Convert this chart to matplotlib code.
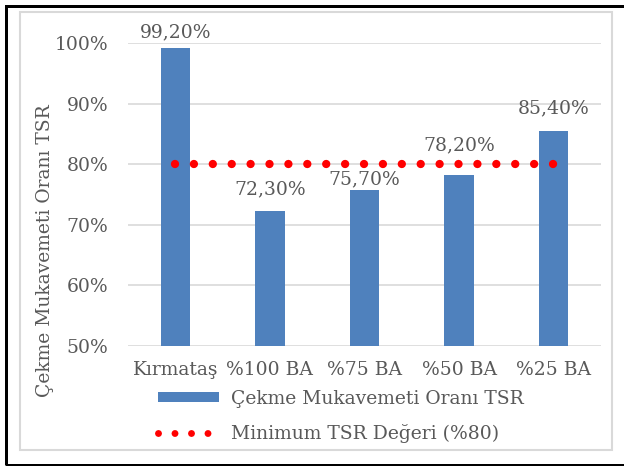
import matplotlib
matplotlib.use("Agg")
import matplotlib.pyplot as plt
from matplotlib.lines import Line2D
from matplotlib.patches import Rectangle, Patch
from matplotlib.ticker import PercentFormatter

categories = ["Kırmataş", "%100 BA", "%75 BA", "%50 BA", "%25 BA"]
tsr = [0.992, 0.723, 0.757, 0.782, 0.854]
tsr_labels = ["99,20%", "72,30%", "75,70%", "78,20%", "85,40%"]
min_tsr = [0.80, 0.80, 0.80, 0.80, 0.80]

bar_name = "Çekme Mukavemeti Oranı TSR"
line_name = "Minimum TSR Değeri (%80)"

BLUE = "#4F81BD"
RED = "#FF0000"
GREY_TXT = "#595959"
GRID = "#D9D9D9"

W, H = 624, 466
DPI = 100
plt.rcParams["font.family"] = ["DejaVu Serif"]
FS = 13.5

fig = plt.figure(figsize=(W / DPI, H / DPI), dpi=DPI)

# plot area in pixels: x 128..601, y 43..346
ax = fig.add_axes([128 / W, 1 - 346 / H, (601 - 128) / W, (346 - 43) / H])

x = range(len(categories))
bars = ax.bar(x, tsr, width=0.31, color=BLUE, zorder=2)

ax.set_xlim(-0.5, len(categories) - 0.5)
ax.set_ylim(0.5, 1.0)
ax.set_yticks([0.5, 0.6, 0.7, 0.8, 0.9, 1.0])
ax.yaxis.set_major_formatter(PercentFormatter(1.0, decimals=0))
ax.set_xticks(list(x))
ax.set_xticklabels(categories)
ax.tick_params(axis="y", length=0, pad=14, labelsize=FS, labelcolor=GREY_TXT)
ax.tick_params(axis="x", length=0, pad=11, labelsize=FS, labelcolor=GREY_TXT)
for s in ax.spines.values():
    s.set_visible(False)
ax.grid(axis="y", color=GRID, linewidth=1.2, zorder=0)
ax.set_axisbelow(True)

# round-dot line: dot period fitted so dots land on both end points
fig.canvas.draw()
p0 = ax.transData.transform((0, 0.8))
p1 = ax.transData.transform((len(categories) - 1, 0.8))
period_pt = (p1[0] - p0[0]) / 20 * 72 / DPI * 0.999
lw = 6.0
ax.plot(x, min_tsr, color=RED, linewidth=lw,
        linestyle=(0, (0.001, period_pt / lw - 0.001)),
        dash_capstyle="round", zorder=3)

# value labels, nudged individually above the bars (pixels)
gaps = [6, 13, 2, 21, 14]
for xi, v, lab, g in zip(x, tsr, tsr_labels, gaps):
    ax.annotate(lab, (xi, v), xytext=(0, g * 72 / DPI), textcoords="offset points",
                ha="center", va="bottom", fontsize=FS, color=GREY_TXT, zorder=4)

fig.text(45 / W, 1 - 251 / H, bar_name, rotation=90, ha="center", va="center",
         fontsize=FS, color=GREY_TXT)

leg_fs_px = FS * DPI / 72
bar_handle = Patch(facecolor=BLUE, edgecolor="none")
leg_lw = 5.0
leg_period = 16.5 * 72 / DPI
line_handle = Line2D([], [], color=RED, linewidth=leg_lw,
                     linestyle=(0, (0.001, leg_period / leg_lw - 0.001)),
                     dash_capstyle="round")
leg = fig.legend([bar_handle, line_handle], [bar_name, line_name],
                 loc="upper left", bbox_to_anchor=(158 / W, 1 - 390 / H),
                 frameon=False, fontsize=FS, labelcolor=GREY_TXT,
                 handlelength=61 / leg_fs_px, handleheight=8 / leg_fs_px,
                 handletextpad=12 / leg_fs_px, labelspacing=0.85,
                 borderpad=0, borderaxespad=0)

# frames: light inner border and heavy outer border
fig.add_artist(Rectangle((20 / W, 1 - 450 / H), (612 - 20) / W, (450 - 12) / H,
                         transform=fig.transFigure, fill=False,
                         edgecolor=GRID, linewidth=1.5))
fig.add_artist(Rectangle((5.5 / W, 1 - 464.5 / H), 700 / W, (464.5 - 5.5) / H,
                         transform=fig.transFigure, fill=False,
                         edgecolor="black", linewidth=3 * 72 / DPI))

fig.savefig("out.png", dpi=DPI)
